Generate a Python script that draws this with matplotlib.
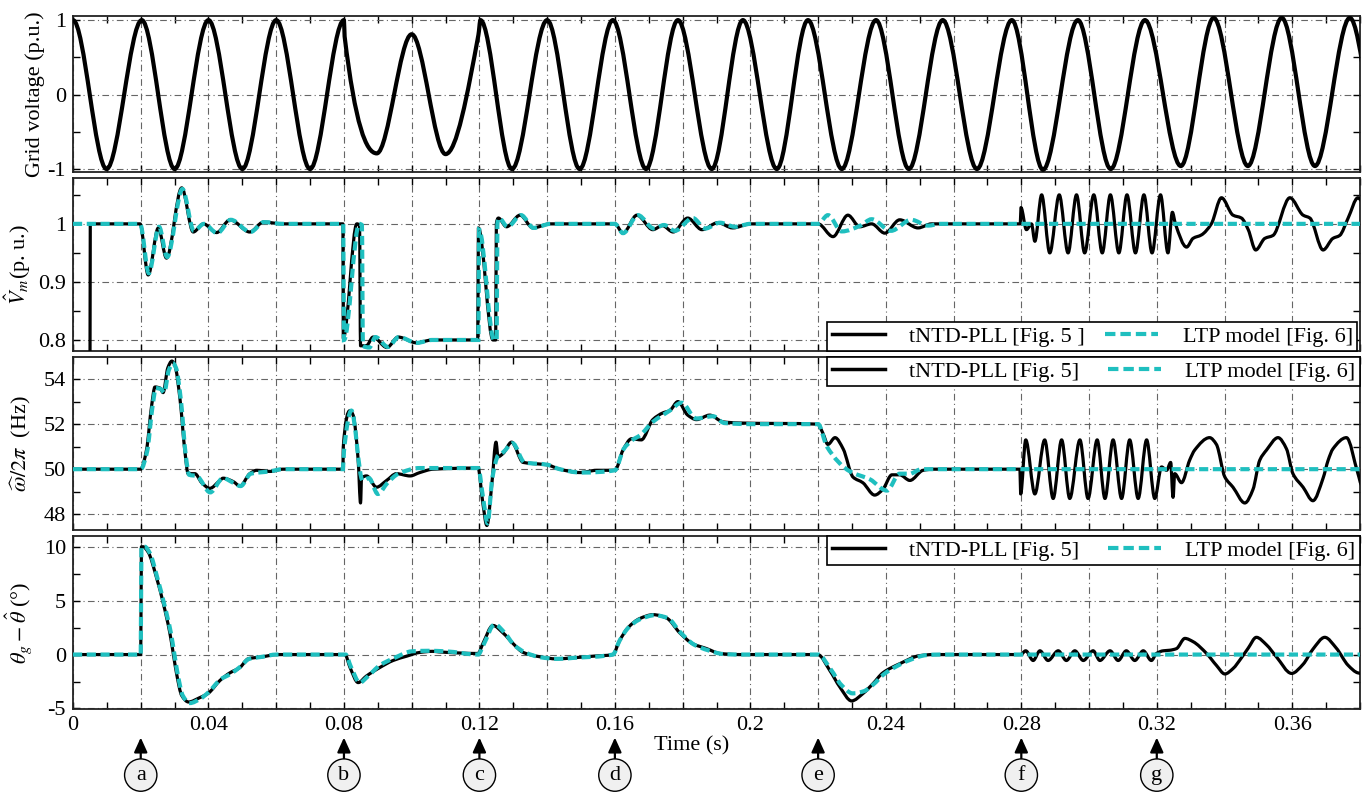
import matplotlib
matplotlib.use('Agg')
import matplotlib.pyplot as plt
import numpy as np
from matplotlib.path import Path
from matplotlib.patches import PathPatch
from matplotlib.lines import Line2D
from matplotlib.ticker import MultipleLocator, FixedLocator, FuncFormatter

plt.rcParams['font.family'] = ['Liberation Serif', 'DejaVu Serif']
plt.rcParams['mathtext.fontset'] = 'stix'
plt.rcParams['axes.unicode_minus'] = False
plt.rcParams['font.size'] = 16

CYAN = '#1fbfbf'

# ---- grid voltage: extrema (p.u.)
vg_t = [0, 0.0099, 0.0203, 0.030, 0.040, 0.050, 0.060, 0.070, 0.080,
        0.0802, 0.0897, 0.100, 0.110, 0.1197,
        0.1203, 0.1296, 0.140, 0.1496, 0.1594, 0.1692, 0.1786, 0.1886, 0.1978,
        0.2078, 0.217, 0.227, 0.2371, 0.2468, 0.2568, 0.2669, 0.2772, 0.2864,
        0.2967, 0.3064, 0.3165, 0.3271, 0.3368, 0.3469, 0.3569, 0.3667, 0.377, 0.387]
vg_v = [1, -1, 1, -1, 1, -1, 1, -1, 1,
        0.78, -0.79, 0.81, -0.8, 0.8,
        1, -1, 1, -1, 1, -1, 1, -1, 1,
        -1, 1, -1, 1, -1, 1, -1, 1, -1.01,
        1, -1, 1, -0.96, 1.03, -0.96, 1.03, -0.96, 1.03, -0.96]

# ---- amplitude estimate Vm (p.u.)
vm_t_pll = [0.005, 0.0051, 0.0198, 0.0222, 0.0252, 0.0276, 0.0321, 0.0355, 0.0385, 0.0424,
            0.0464, 0.0522, 0.0562, 0.062, 0.0797, 0.0798, 0.0838, 0.0846, 0.0849, 0.0866,
            0.0886, 0.0927, 0.096, 0.1015, 0.106, 0.1195, 0.1197, 0.124, 0.1248, 0.1250,
            0.1256, 0.128, 0.132, 0.1358, 0.1408, 0.16, 0.1624, 0.1665, 0.1712, 0.174,
            0.1772, 0.1815, 0.1857, 0.1904, 0.1948, 0.2, 0.22, 0.2244, 0.2288, 0.2323,
            0.2358, 0.2397, 0.2441, 0.2495, 0.2535, 0.2797, 0.2799, 0.2815, 0.283, 0.284,
            0.2860, 0.2884, 0.2912, 0.2938, 0.2963, 0.2987, 0.3014, 0.3039, 0.3063, 0.3088,
            0.3112, 0.3137, 0.3162, 0.3186, 0.3211, 0.3233, 0.3246, 0.3255, 0.3288, 0.3307,
            0.3332, 0.3361, 0.3391, 0.3425, 0.3450, 0.3470, 0.3492, 0.3519, 0.3543, 0.3593,
            0.3632, 0.3652, 0.3691, 0.3720, 0.3740, 0.3765, 0.3794, 0.3805]
vm_pll = [0.70, 1.0, 1.0, 0.912, 0.993, 0.941, 1.062, 0.986, 1.0, 0.985,
          1.007, 0.986, 1.003, 1.0, 1.0, 0.803, 1.0, 0.998, 0.79, 0.79,
          0.805, 0.787, 0.805, 0.795, 0.8, 0.8, 0.993, 0.8, 0.8, 1.0,
          1.01, 0.995, 1.015, 0.993, 1.0, 1.0, 0.984, 1.015, 0.99, 0.997,
          0.986, 1.01, 0.99, 1.002, 0.993, 1.0, 1.0, 0.978, 1.015, 0.995,
          1.0, 0.984, 1.007, 0.993, 1.0, 1.0, 1.028, 0.99, 1.0, 0.97,
          1.05, 0.95, 1.05, 0.95, 1.05, 0.95, 1.05, 0.95, 1.05, 0.95,
          1.05, 0.95, 1.05, 0.95, 1.05, 0.95, 1.02, 1.0, 0.96, 0.975,
          0.981, 1.0, 1.045, 1.015, 1.01, 0.99, 0.955, 0.975, 0.98, 1.045,
          1.015, 1.01, 0.955, 0.975, 0.98, 1.01, 1.045, 1.04]
vm_t_ltp = [0, 0.0198, 0.0224, 0.0254, 0.0278, 0.0323, 0.0357, 0.0387, 0.0426, 0.0466,
            0.0524, 0.0564, 0.062, 0.0798, 0.0800, 0.0845, 0.0853, 0.0856, 0.0875, 0.0893,
            0.093, 0.0962, 0.1015, 0.106, 0.1197, 0.1199, 0.1243, 0.1251, 0.1253, 0.1258,
            0.1283, 0.1323, 0.136, 0.141, 0.16, 0.1624, 0.1668, 0.1715, 0.1745, 0.1777,
            0.183, 0.1867, 0.191, 0.1955, 0.2, 0.22, 0.2229, 0.227, 0.2325, 0.2358,
            0.2415, 0.2475, 0.2525, 0.256, 0.38]
vm_ltp = [1.0, 1.0, 0.915, 0.995, 0.943, 1.06, 0.988, 1.0, 0.984, 1.007,
          0.986, 1.003, 1.0, 1.0, 0.80, 1.0, 0.998, 0.79, 0.787, 0.805,
          0.788, 0.805, 0.795, 0.8, 0.8, 0.99, 0.8, 0.8, 1.0, 1.01,
          0.995, 1.015, 0.993, 1.0, 1.0, 0.984, 1.015, 0.992, 0.998, 0.988,
          1.01, 0.992, 1.002, 0.995, 1.0, 1.0, 1.015, 0.987, 0.997, 1.008,
          0.988, 1.007, 0.997, 1.0, 1.0]

# ---- frequency estimate (Hz)
f_t_pll = [0, 0.02, 0.0217, 0.0232, 0.0242, 0.0257, 0.0266, 0.028, 0.0292, 0.0301,
           0.0316, 0.033, 0.034, 0.036, 0.038, 0.0404, 0.0434, 0.0443, 0.0473, 0.0493,
           0.0522, 0.0542, 0.0581, 0.062, 0.0797, 0.0798, 0.0818, 0.0827, 0.0842, 0.0849,
           0.0852, 0.0867, 0.0896, 0.0926, 0.0955, 0.0995, 0.1024, 0.1063, 0.1196, 0.121,
           0.1222, 0.1237, 0.1249, 0.1255, 0.127, 0.1295, 0.1329, 0.1358, 0.1398, 0.1437,
           0.1497, 0.1546, 0.16, 0.1624, 0.1649, 0.1678, 0.1712, 0.1742, 0.1762, 0.1786,
           0.1815, 0.1841, 0.188, 0.1919, 0.1968, 0.2199, 0.2214, 0.2229, 0.225, 0.2274,
           0.2303, 0.2332, 0.2367, 0.2391, 0.2418, 0.2441, 0.2471, 0.251, 0.2539, 0.2796,
           0.2798, 0.2813, 0.2840, 0.2869, 0.2894, 0.2919, 0.2943, 0.2973, 0.2997, 0.3024,
           0.3047, 0.3071, 0.3096, 0.3120, 0.3145, 0.3170, 0.3194, 0.3214, 0.3229, 0.3241,
           0.3248, 0.3253, 0.3273, 0.3297, 0.3312, 0.3356, 0.3376, 0.3401, 0.3425, 0.3460,
           0.3484, 0.3504, 0.3524, 0.3558, 0.3583, 0.3602, 0.3632, 0.3661, 0.3691, 0.3706,
           0.3720, 0.3760, 0.3794, 0.3805]
f_pll = [50, 50, 50.85, 52.8, 53.65, 53.6, 53.4, 54.5, 54.8, 54.6,
         53.1, 50.85, 49.8, 49.8, 49.4, 49.15, 49.5, 49.6, 49.45, 49.25,
         49.8, 49.95, 49.9, 50.0, 50.0, 50.98, 52.6, 52.4, 50.4, 48.5,
         49.6, 49.7, 49.2, 49.5, 49.8, 49.7, 49.85, 50.0, 50.05, 48.5,
         47.5, 49.4, 51.2, 50.55, 50.7, 51.2, 50.3, 50.25, 50.2, 50.0,
         49.85, 49.95, 49.95, 50.85, 51.35, 51.3, 52.2, 52.5, 52.6, 53.0,
         52.4, 52.2, 52.4, 52.1, 52.05, 52.0, 51.6, 51.1, 51.4, 50.9,
         49.65, 49.4, 48.85, 49.1, 49.75, 49.75, 49.5, 49.95, 50.0, 50.0,
         48.9, 51.3, 48.9, 51.3, 48.7, 51.3, 48.7, 51.3, 48.7, 51.3,
         48.7, 51.3, 48.7, 51.3, 48.7, 51.3, 48.7, 50.1, 49.95, 50.3,
         48.75, 49.8, 49.4, 50.4, 50.85, 51.4, 51.1, 49.65, 49.2, 48.5,
         49.1, 50.4, 50.85, 51.4, 50.9, 49.8, 49.2, 48.6, 49.6, 50.4,
         50.9, 51.4, 49.8, 49.3]
f_t_ltp = [0, 0.02, 0.0219, 0.0234, 0.0245, 0.026, 0.0269, 0.0283, 0.0295, 0.0304,
           0.0319, 0.0333, 0.0343, 0.0365, 0.0405, 0.0443, 0.0473, 0.0495, 0.0525, 0.058,
           0.062, 0.0797, 0.0800, 0.0822, 0.0855, 0.0874, 0.09, 0.0929, 0.0961, 0.1024,
           0.1196, 0.1212, 0.1224, 0.1238, 0.1255, 0.127, 0.1298, 0.1333, 0.14, 0.1437,
           0.15, 0.16, 0.1626, 0.1652, 0.1674, 0.1712, 0.1762, 0.1797, 0.184, 0.189,
           0.1923, 0.2, 0.22, 0.2226, 0.2294, 0.2353, 0.2403, 0.2441, 0.2471, 0.2505, 0.38]
f_ltp = [50, 50, 50.8, 52.7, 53.6, 53.55, 53.4, 54.4, 54.7, 54.5,
         53.0, 50.6, 49.75, 49.7, 48.97, 49.6, 49.4, 49.25, 49.8, 49.9,
         50.0, 50.0, 50.8, 52.6, 49.5, 49.6, 48.9, 49.4, 49.8, 50.05,
         50.05, 48.6, 47.6, 49.6, 50.6, 50.75, 51.15, 50.3, 50.2, 50.0,
         49.85, 49.95, 50.9, 51.3, 51.5, 52.1, 52.6, 52.95, 52.25, 52.35,
         52.05, 52.0, 52.0, 51.0, 49.9, 49.55, 49.05, 49.8, 49.8, 50.0, 50.0]

# ---- phase error (deg)
th_t_pll = [0, 0.02, 0.0202, 0.0207, 0.0222, 0.0247, 0.0267, 0.0286, 0.0296, 0.0306,
            0.0321, 0.0341, 0.0374, 0.0399, 0.0434, 0.0463, 0.0493, 0.0517, 0.0561, 0.0601,
            0.0803, 0.0818, 0.0842, 0.0866, 0.0906, 0.0945, 0.0985, 0.1024, 0.1063, 0.108,
            0.1196, 0.121, 0.124, 0.127, 0.13, 0.1329, 0.1378, 0.1428, 0.1477, 0.1536,
            0.1594, 0.1614, 0.1639, 0.1674, 0.1713, 0.1752, 0.1792, 0.183, 0.1871, 0.191,
            0.1968, 0.2199, 0.2235, 0.2264, 0.2299, 0.2333, 0.2362, 0.2391, 0.2441, 0.25,
            0.254, 0.2798, 0.2813, 0.2835, 0.2855, 0.2879, 0.2909, 0.2933, 0.2958, 0.2983,
            0.3012, 0.3032, 0.3062, 0.3086, 0.3110, 0.3135, 0.3160, 0.3184, 0.3199, 0.3219,
            0.3238, 0.3258, 0.3283, 0.3307, 0.3347, 0.3376, 0.3401, 0.3425, 0.3450, 0.3470,
            0.3494, 0.3524, 0.3553, 0.3598, 0.3632, 0.3661, 0.3696, 0.3730, 0.3765, 0.3794, 0.3805]
th_pll = [0, 0, 10.0, 10.0, 9.5, 7.1, 4.7, 2.0, 0.1, -1.8,
          -3.8, -4.4, -4.0, -3.6, -2.4, -1.7, -1.2, -0.4, -0.2, 0,
          0, -1.2, -2.6, -2.0, -1.2, -0.55, -0.15, 0.2, 0.3, 0.25,
          0.1, 1.0, 2.7, 2.0, 1.0, 0.2, -0.2, -0.4, -0.3, -0.15,
          0.0, 1.3, 2.5, 3.35, 3.7, 3.4, 2.0, 1.0, 0.55, 0.1,
          0, 0, -1.5, -3.0, -4.3, -3.6, -2.7, -1.7, -0.85, -0.1,
          0, 0, 0.35, -0.55, 0.35, -0.55, 0.35, -0.55, 0.35, -0.55,
          0.35, -0.55, 0.35, -0.55, 0.35, -0.55, 0.35, -0.55, 0.1, 0.35,
          0.4, 0.55, 1.5, 1.2, 0.1, -1.0, -1.8, -1.3, -0.3, 0.6,
          1.6, 0.9, -0.2, -1.75, -0.9, 0.5, 1.6, 0.6, -1.0, -1.7, -1.75]
th_t_ltp = [0, 0.02, 0.0202, 0.0212, 0.0227, 0.025, 0.027, 0.0289, 0.0299, 0.0309,
            0.0324, 0.0345, 0.0376, 0.04, 0.0436, 0.0465, 0.0495, 0.052, 0.056, 0.06,
            0.0805, 0.082, 0.0847, 0.0868, 0.0906, 0.095, 0.1, 0.105, 0.11, 0.1196,
            0.1212, 0.1245, 0.1275, 0.1302, 0.1335, 0.138, 0.143, 0.148, 0.1594, 0.1614,
            0.164, 0.1676, 0.1718, 0.1755, 0.1795, 0.1835, 0.1875, 0.192, 0.197, 0.22,
            0.2238, 0.2268, 0.2302, 0.2335, 0.2362, 0.2395, 0.2431, 0.2471, 0.252, 0.256, 0.38]
th_ltp = [0, 0, 10.0, 10.0, 9.4, 7.0, 4.6, 2.0, 0.1, -1.8,
          -3.8, -4.5, -4.1, -3.5, -2.3, -1.8, -1.1, -0.4, -0.2, 0,
          0, -1.1, -2.6, -2.1, -1.0, -0.3, 0.3, 0.35, 0.3, 0.0,
          0.9, 2.8, 2.0, 0.9, 0.2, -0.25, -0.4, -0.3, 0, 1.3,
          2.5, 3.3, 3.65, 3.4, 2.0, 0.9, 0.4, 0.05, 0, 0,
          -1.4, -2.8, -3.6, -3.4, -2.8, -1.8, -1.1, -0.5, -0.05, 0, 0]

events = [0.02, 0.08, 0.12, 0.16, 0.22, 0.28, 0.32]
event_labels = ['a', 'b', 'c', 'd', 'e', 'f', 'g']


def smooth(ax, t, y, **kw):
    # monotone cubic through the read points, drawn as bezier path
    t = np.asarray(t, float)
    y = np.asarray(y, float)
    h = np.diff(t)
    d = np.diff(y) / h
    m = np.zeros_like(y)
    for i in range(1, len(y) - 1):
        if d[i - 1] * d[i] > 0:
            w1 = 2 * h[i] + h[i - 1]
            w2 = h[i] + 2 * h[i - 1]
            m[i] = (w1 + w2) / (w1 / d[i - 1] + w2 / d[i])
    verts = [(t[0], y[0])]
    for i in range(len(h)):
        k = h[i] / 3
        verts += [(t[i] + k, y[i] + m[i] * k), (t[i + 1] - k, y[i + 1] - m[i + 1] * k),
                  (t[i + 1], y[i + 1])]
    codes = [Path.MOVETO] + [Path.CURVE4] * (3 * len(h))
    ax.add_patch(PathPatch(Path(verts, codes), fill=False, **kw))


fig = plt.figure(figsize=(13.71, 7.98), dpi=100)
L, W = 73 / 1371, 1287 / 1371
ax1 = fig.add_axes([L, 626 / 798, W, 156 / 798])
ax2 = fig.add_axes([L, 447 / 798, W, 173 / 798])
ax3 = fig.add_axes([L, 268 / 798, W, 173 / 798])
ax4 = fig.add_axes([L, 89 / 798, W, 173 / 798])
axes = [ax1, ax2, ax3, ax4]

blk = dict(edgecolor='black', lw=2.3, joinstyle='round', capstyle='round', zorder=3)
cyn = dict(edgecolor=CYAN, lw=3.0, linestyle=(0, (2.2, 1.1)), zorder=4)

smooth(ax1, vg_t, vg_v, edgecolor='black', lw=3.0, joinstyle='round', capstyle='round', zorder=3)
smooth(ax2, vm_t_pll, vm_pll, **blk)
smooth(ax2, vm_t_ltp, vm_ltp, **cyn)
smooth(ax3, f_t_pll, f_pll, **blk)
smooth(ax3, f_t_ltp, f_ltp, **cyn)
smooth(ax4, th_t_pll, th_pll, **blk)
smooth(ax4, th_t_ltp, th_ltp, **cyn)

ylims = [(-1.04, 1.055), (0.781, 1.079), (47.3, 54.98), (-5.05, 11.0)]
ymaj = [[-1, 0, 1], [0.8, 0.9, 1.0], [48, 50, 52, 54], [-5, 0, 5, 10]]
ymin = [[-0.5, 0.5], [0.85, 0.95, 1.05], [49, 51, 53], [-2.5, 2.5, 7.5]]
ylabs = ['Grid voltage (p.u.)', r'$\hat{V}_m$(p. u.)', r'$\widehat{\omega}/2\pi$  (Hz)',
         r'$\theta_g-\hat{\theta}$ (°)']
ylab_x = [-0.022, -0.031, -0.031, -0.030]

for ax, yl, ya, yb, lab, lx in zip(axes, ylims, ymaj, ymin, ylabs, ylab_x):
    ax.set_xlim(0, 0.38)
    ax.set_ylim(*yl)
    ax.xaxis.set_major_locator(MultipleLocator(0.02))
    ax.xaxis.set_minor_locator(MultipleLocator(0.01))
    ax.yaxis.set_major_locator(FixedLocator(ya))
    ax.yaxis.set_minor_locator(FixedLocator(yb))
    ax.yaxis.set_major_formatter(FuncFormatter(lambda v, p: '%g' % v))
    ax.tick_params(which='both', direction='in', top=True, right=True, length=5,
                   width=1.0, labelsize=16, pad=5)
    ax.grid(True, which='major', linestyle=(0, (6, 3, 1, 3)), color='#666666', lw=0.8)
    for s in ax.spines.values():
        s.set_linewidth(1.3)
        s.set_color('#222222')
    ax.set_ylabel(lab, fontsize=16)
    ax.yaxis.set_label_coords(lx, 0.5)
    if ax is not ax4:
        ax.tick_params(labelbottom=False)

ax4.xaxis.set_major_formatter(FuncFormatter(
    lambda v, p: ('%g' % round(v, 2)) if abs(round(v / 0.04) * 0.04 - v) < 1e-6 else ''))

fig.text(692 / 1371, 1 - 746 / 798, 'Time (s)', ha='center', va='center', fontsize=16)

# legends
hs = [Line2D([], [], color='black', lw=2.5),
      Line2D([], [], color=CYAN, lw=3.0, linestyle=(0, (2.5, 1.2)))]
leg_kw = dict(ncol=2, mode='expand', borderaxespad=0, fancybox=False, edgecolor='black',
              framealpha=1, handlelength=2.4, handletextpad=1.1, borderpad=0.2, fontsize=16)
lg = ax2.legend(hs, ['tNTD-PLL [Fig. 5 ]', 'LTP model [Fig. 6]'], loc='lower left',
                bbox_to_anchor=(0.586, 0.0, 0.412, 0.15), **leg_kw)
lg.get_frame().set_linewidth(1.2)
lg.set_zorder(10)
for ax in (ax3, ax4):
    lg = ax.legend(hs, ['tNTD-PLL [Fig. 5]', 'LTP model [Fig. 6]'], loc='upper left',
                   bbox_to_anchor=(0.586, 0.0, 0.414, 1.0), **leg_kw)
    lg.get_frame().set_linewidth(1.2)
    lg.set_zorder(10)

# event markers
tr = ax4.get_xaxis_transform()
for t, s in zip(events, event_labels):
    ax4.annotate(s, xy=(t, -0.165), xycoords=tr, xytext=(t, -0.382), textcoords=tr,
                 ha='center', va='center', fontsize=16, annotation_clip=False,
                 bbox=dict(boxstyle='circle,pad=0.3', fc='#f0f0f0', ec='black', lw=1.0),
                 arrowprops=dict(arrowstyle='-|>,head_length=0.55,head_width=0.25',
                                 color='black', lw=1.6, shrinkA=0, shrinkB=0))

fig.savefig('out.png', dpi=100)
